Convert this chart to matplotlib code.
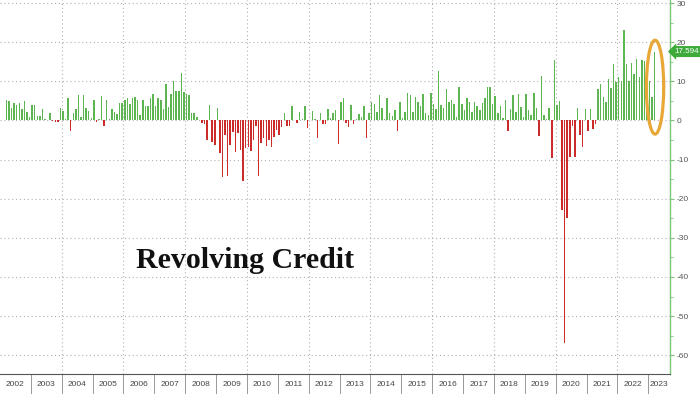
import numpy as np
import pandas as pd
import matplotlib
matplotlib.use("Agg")
import matplotlib.pyplot as plt
from matplotlib.patches import Ellipse
import matplotlib.transforms as mtransforms

# ── Data: monthly change in revolving consumer credit ($bn), Mar-2002 .. Mar-2023 ──
start_month = "2002-03"
monthly_change = [
    5.3, 5.0, 3.1, 4.5, 4.0, 4.5, 3.0, 4.9, 2.1, 1.0,                  # 2002 (Mar-Dec)
    3.9, 3.9, 1.2, 1.2, 3.0, 0.3, 0.2, 2.0, -0.2, -0.3, -0.4, 3.1,     # 2003
    2.3, 0.3, 5.8, -2.6, 1.9, 2.8, 6.6, 1.0, 6.6, 3.1, 2.3, 0.7,       # 2004
    5.1, -0.3, 0.3, 6.2, -1.3, 5.1, 0.3, 3.0, 2.1, 1.7, 4.5, 4.5,      # 2005
    5.3, 5.8, 4.3, 5.6, 6.0, 5.3, 1.5, 5.3, 3.8, 3.8, 5.8, 6.7,        # 2006
    3.8, 5.8, 5.1, 3.0, 9.4, 3.4, 6.8, 10.1, 7.5, 7.5, 12.0, 7.3,      # 2007
    6.8, 6.4, 1.9, 1.9, 1.0, 0.1, -0.7, -0.9, -5.0, 4.0, -5.5, -6.2,   # 2008
    3.3, -8.4, -14.5, -3.7, -14.1, -6.4, -2.9, -8.0, -3.3, -7.6, -15.6, -7.0,  # 2009
    -6.9, -7.9, -4.9, -1.4, -14.1, -5.7, -4.4, -6.5, -5.0, -6.7, -4.3, -2.5,   # 2010
    -3.6, -1.6, 2.0, -1.4, -1.5, 3.8, 0.2, -0.7, 2.1, 0.3, 3.8, -2.0,  # 2011
    0.2, 2.4, 0.3, -4.4, 1.9, -1.0, -1.0, 3.0, 0.5, 2.0, 2.6, -5.9,    # 2012
    4.8, 5.8, -0.7, -1.6, 4.0, -0.8, 0.3, 1.6, 1.0, 3.8, -4.4, 1.8,    # 2013
    4.7, 4.3, 2.1, 6.4, 3.2, 0.4, 5.6, 2.0, 1.2, 2.6, -2.7, 4.8,       # 2014
    0.5, 2.1, 7.1, 6.4, 2.1, 6.0, 4.7, 3.6, 6.7, 2.0, 1.5, 7.0,        # 2015
    4.1, 3.0, 12.6, 4.0, 3.2, 7.9, 4.7, 5.3, 4.3, 1.0, 8.5, 4.1,       # 2016
    2.7, 5.6, 4.7, 2.1, 4.7, 3.6, 2.6, 4.4, 5.8, 8.5, 8.5, 4.1,        # 2017
    6.2, 1.9, 3.8, 0.7, 5.1, -2.7, 3.0, 6.5, 2.1, 6.7, 3.4, 0.9,       # 2018
    6.8, 2.7, 1.3, 7.1, 3.2, -4.1, 11.4, 1.5, 0.4, 3.2, -9.6, 15.4,    # 2019
    4.0, 4.9, -23.0, -57.0, -25.0, -9.4, -1.5, -9.4, 3.2, -3.8, -6.7, 2.8,  # 2020
    -2.7, 2.8, -2.3, -0.9, 7.9, 9.2, 6.0, 4.7, 10.7, 8.4, 14.3, 9.8,   # 2021
    11.1, 10.0, 23.2, 14.4, 10.0, 14.7, 11.8, 15.6, 11.1, 15.4, 15.1, 11.1,  # 2022
    10.0, 6.0, 17.594,                                                 # 2023 (Jan-Mar)
]
year_labels = [str(y) for y in range(2002, 2024)]
y_ticks = list(range(-60, 31, 10))
last_label = "17.594"
title = "Revolving Credit"

# ── Derived positions (decimal years, bar at middle of its month) ────────────
months = pd.date_range(start_month, periods=len(monthly_change), freq="MS")
xpos = months.year + (months.month - 0.5) / 12
vals = np.array(monthly_change)

GREEN = "#5DB552"
RED = "#CC2B2B"
AXIS_GREEN = "#7CC576"
GRID = "#B0B0B0"

fig = plt.figure(figsize=(7.0, 3.94), dpi=100)
ax = fig.add_axes([0, 20 / 394, 670 / 700, 374 / 394])

x_right = 2002 + 670 / 30.87
ax.set_xlim(2002, x_right)
ax.set_ylim(-64.8, 30.77)

colors = np.where(vals >= 0, GREEN, RED)
ax.bar(xpos, vals, width=0.048, color=colors, linewidth=0, zorder=3)

# gridlines
for yv in y_ticks:
    ax.axhline(yv, color=GRID, linestyle=(0, (1, 2.5)), linewidth=0.8, zorder=1)
for yr in range(2004, 2024, 2):
    ax.axvline(yr, color=GRID, linestyle=(0, (1, 2.5)), linewidth=0.8, zorder=1)

# spines
for s in ["top", "left"]:
    ax.spines[s].set_visible(False)
ax.spines["right"].set_color(AXIS_GREEN)
ax.spines["right"].set_linewidth(1.0)
ax.spines["bottom"].set_color("#555555")
ax.spines["bottom"].set_linewidth(0.8)

# y axis on the right
ax.yaxis.tick_right()
ax.set_yticks(y_ticks)
ax.set_yticklabels([str(t) for t in y_ticks])
ax.set_yticks(list(range(-60, 31, 5)), minor=True)
ax.tick_params(axis="y", which="major", direction="out", length=3, width=0.8,
               color=AXIS_GREEN, labelsize=6, labelcolor="#555555", pad=1.5)
ax.tick_params(axis="y", which="minor", direction="out", length=2, width=0.6,
               color=AXIS_GREEN)
for lab in ax.get_yticklabels():
    lab.set_family("Liberation Sans")

# x axis: separators at year boundaries, labels in between
bounds = list(range(2003, 2024))
mids = [y + 0.5 for y in range(2002, 2023)] + [(2023 + x_right) / 2]
ax.set_xticks(bounds)
ax.set_xticklabels([])
ax.set_xticks(mids, minor=True)
ax.set_xticklabels(year_labels, minor=True)
ax.tick_params(axis="x", which="major", direction="out", length=14.5, width=0.6,
               color="#888888")
ax.tick_params(axis="x", which="minor", length=0, labelsize=6,
               labelcolor="#444444", pad=5)
for lab in ax.get_xticklabels(minor=True):
    lab.set_family("Liberation Sans")

# highlight the latest print
ax.add_patch(Ellipse((2023.22, 8.5), width=0.56, height=24.0, fill=False,
                     edgecolor="#E8A838", linewidth=2.3, zorder=4))

trans = mtransforms.blended_transform_factory(ax.transAxes, ax.transData)
ax.text(1.006, vals[-1], last_label, transform=trans, ha="left", va="center",
        fontsize=5.8, color="white", family="Liberation Sans", zorder=5,
        bbox=dict(boxstyle="larrow,pad=0.25", fc="#3DAA3A", ec="none"),
        clip_on=False)

fig.text(245 / 700, 1 - 268 / 394, title, ha="center", va="baseline",
         fontsize=21.5, fontweight="bold", family="Liberation Serif",
         color="#111111")

fig.savefig("out.png", dpi=100)
